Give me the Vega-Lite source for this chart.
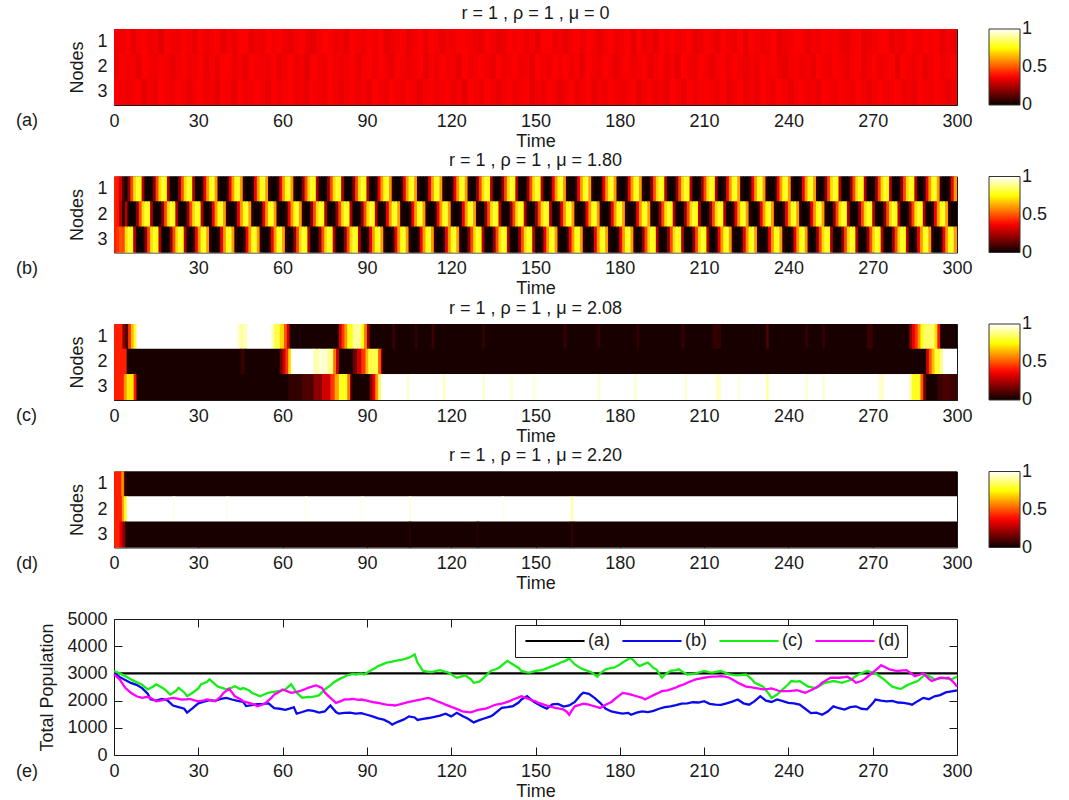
{
"$schema": "https://vega.github.io/schema/vega-lite/v6.json",
"padding": {"left": 15, "top": 4, "right": 5, "bottom": 5},
"bounds": "flush",
"spacing": 71.5,
"config": {
  "font": "Liberation Sans",
  "view": {"stroke": "#1a1a1a", "strokeWidth": 1},
  "axis": {"labelFont": "Liberation Sans", "titleFont": "Liberation Sans", "labelFontSize": 18, "titleFontSize": 18, "titleFontWeight": "normal", "labelColor": "#1a1a1a", "titleColor": "#1a1a1a", "grid": false, "domain": false, "tickColor": "#1a1a1a", "tickSize": -8, "tickWidth": 1, "labelFlush": false, "labelOverlap": false, "zindex": 1},
  "axisX": {"labelPadding": 15, "titlePadding": 2},
  "axisY": {"labelPadding": 15, "titlePadding": 10},
  "title": {"font": "Liberation Sans", "fontSize": 18, "fontWeight": "normal", "color": "#1a1a1a", "offset": 6},
  "legend": {"labelFont": "Liberation Sans", "labelFontSize": 18, "labelColor": "#1a1a1a", "gradientLength": 76, "gradientThickness": 31, "gradientStrokeColor": "#333333", "gradientStrokeWidth": 1, "padding": 0, "offset": 31, "labelOffset": 5, "labelOverlap": false}
},
"resolve": {"scale": {"color": "independent", "x": "independent", "y": "independent"}, "legend": {"color": "independent"}},
"datasets": {
"A": [
{"t":0,"1":0.36,"2":0.35,"3":0.37},{"t":2,"1":0.35,"2":0.37,"3":0.36},{"t":4,"1":0.37,"2":0.36,"3":0.35},{"t":6,"1":0.34,"2":0.36,"3":0.36},{"t":8,"1":0.36,"2":0.34,"3":0.37},{"t":10,"1":0.37,"2":0.37,"3":0.34},{"t":12,"1":0.35,"2":0.36,"3":0.36},{"t":14,"1":0.36,"2":0.35,"3":0.35},{"t":16,"1":0.33,"2":0.37,"3":0.37},{"t":18,"1":0.37,"2":0.36,"3":0.36},
{"t":20,"1":0.36,"2":0.34,"3":0.35},{"t":22,"1":0.35,"2":0.36,"3":0.37},{"t":24,"1":0.37,"2":0.37,"3":0.36},{"t":26,"1":0.36,"2":0.35,"3":0.34},{"t":28,"1":0.34,"2":0.36,"3":0.36},{"t":30,"1":0.37,"2":0.37,"3":0.37},{"t":32,"1":0.35,"2":0.34,"3":0.35},{"t":34,"1":0.36,"2":0.36,"3":0.36},{"t":36,"1":0.37,"2":0.35,"3":0.34},{"t":38,"1":0.34,"2":0.37,"3":0.37},
{"t":40,"1":0.36,"2":0.37,"3":0.36},{"t":42,"1":0.35,"2":0.35,"3":0.34},{"t":44,"1":0.37,"2":0.36,"3":0.37},{"t":46,"1":0.37,"2":0.34,"3":0.35},{"t":48,"1":0.34,"2":0.37,"3":0.36},{"t":50,"1":0.36,"2":0.36,"3":0.37},{"t":52,"1":0.35,"2":0.36,"3":0.36},{"t":54,"1":0.37,"2":0.35,"3":0.34},{"t":56,"1":0.36,"2":0.37,"3":0.37},{"t":58,"1":0.37,"2":0.34,"3":0.35},
{"t":60,"1":0.35,"2":0.36,"3":0.36},{"t":62,"1":0.34,"2":0.37,"3":0.37},{"t":64,"1":0.36,"2":0.35,"3":0.35},{"t":66,"1":0.37,"2":0.36,"3":0.36},{"t":68,"1":0.35,"2":0.33,"3":0.34},{"t":70,"1":0.33,"2":0.37,"3":0.37},{"t":72,"1":0.36,"2":0.36,"3":0.36},{"t":74,"1":0.37,"2":0.35,"3":0.35},{"t":76,"1":0.37,"2":0.37,"3":0.37},{"t":78,"1":0.35,"2":0.36,"3":0.36},
{"t":80,"1":0.36,"2":0.35,"3":0.34},{"t":82,"1":0.34,"2":0.36,"3":0.36},{"t":84,"1":0.37,"2":0.37,"3":0.37},{"t":86,"1":0.36,"2":0.34,"3":0.35},{"t":88,"1":0.35,"2":0.36,"3":0.36},{"t":90,"1":0.37,"2":0.37,"3":0.34},{"t":92,"1":0.36,"2":0.35,"3":0.37},{"t":94,"1":0.37,"2":0.37,"3":0.36},{"t":96,"1":0.34,"2":0.36,"3":0.35},{"t":98,"1":0.35,"2":0.34,"3":0.37},
{"t":100,"1":0.36,"2":0.37,"3":0.36},{"t":102,"1":0.37,"2":0.36,"3":0.35},{"t":104,"1":0.34,"2":0.35,"3":0.37},{"t":106,"1":0.36,"2":0.36,"3":0.36},{"t":108,"1":0.37,"2":0.37,"3":0.34},{"t":110,"1":0.35,"2":0.34,"3":0.36},{"t":112,"1":0.37,"2":0.36,"3":0.37},{"t":114,"1":0.36,"2":0.35,"3":0.35},{"t":116,"1":0.34,"2":0.37,"3":0.36},{"t":118,"1":0.36,"2":0.36,"3":0.37},
{"t":120,"1":0.35,"2":0.36,"3":0.35},{"t":122,"1":0.37,"2":0.34,"3":0.36},{"t":124,"1":0.37,"2":0.37,"3":0.34},{"t":126,"1":0.36,"2":0.35,"3":0.37},{"t":128,"1":0.35,"2":0.36,"3":0.36},{"t":130,"1":0.34,"2":0.37,"3":0.35},{"t":132,"1":0.37,"2":0.36,"3":0.37},{"t":134,"1":0.36,"2":0.34,"3":0.36},{"t":136,"1":0.34,"2":0.37,"3":0.34},{"t":138,"1":0.35,"2":0.35,"3":0.36},
{"t":140,"1":0.37,"2":0.36,"3":0.37},{"t":142,"1":0.36,"2":0.37,"3":0.35},{"t":144,"1":0.37,"2":0.35,"3":0.36},{"t":146,"1":0.35,"2":0.36,"3":0.37},{"t":148,"1":0.36,"2":0.34,"3":0.34},{"t":150,"1":0.34,"2":0.37,"3":0.36},{"t":152,"1":0.37,"2":0.36,"3":0.35},{"t":154,"1":0.37,"2":0.35,"3":0.37},{"t":156,"1":0.35,"2":0.37,"3":0.36},{"t":158,"1":0.36,"2":0.36,"3":0.34},
{"t":160,"1":0.34,"2":0.37,"3":0.36},{"t":162,"1":0.36,"2":0.35,"3":0.37},{"t":164,"1":0.37,"2":0.36,"3":0.35},{"t":166,"1":0.35,"2":0.34,"3":0.36},{"t":168,"1":0.37,"2":0.37,"3":0.37},{"t":170,"1":0.36,"2":0.36,"3":0.34},{"t":172,"1":0.34,"2":0.35,"3":0.36},{"t":174,"1":0.36,"2":0.37,"3":0.35},{"t":176,"1":0.37,"2":0.36,"3":0.37},{"t":178,"1":0.35,"2":0.34,"3":0.36},
{"t":180,"1":0.36,"2":0.36,"3":0.35},{"t":182,"1":0.37,"2":0.37,"3":0.36},{"t":184,"1":0.34,"2":0.35,"3":0.37},{"t":186,"1":0.37,"2":0.36,"3":0.34},{"t":188,"1":0.35,"2":0.37,"3":0.36},{"t":190,"1":0.36,"2":0.34,"3":0.37},{"t":192,"1":0.34,"2":0.36,"3":0.35},{"t":194,"1":0.37,"2":0.37,"3":0.36},{"t":196,"1":0.36,"2":0.35,"3":0.34},{"t":198,"1":0.37,"2":0.36,"3":0.37},
{"t":200,"1":0.35,"2":0.34,"3":0.36},{"t":202,"1":0.36,"2":0.37,"3":0.34},{"t":204,"1":0.37,"2":0.36,"3":0.37},{"t":206,"1":0.34,"2":0.35,"3":0.35},{"t":208,"1":0.35,"2":0.37,"3":0.36},{"t":210,"1":0.37,"2":0.36,"3":0.37},{"t":212,"1":0.36,"2":0.34,"3":0.36},{"t":214,"1":0.34,"2":0.36,"3":0.35},{"t":216,"1":0.37,"2":0.37,"3":0.37},{"t":218,"1":0.36,"2":0.35,"3":0.34},
{"t":220,"1":0.35,"2":0.37,"3":0.36},{"t":222,"1":0.37,"2":0.36,"3":0.37},{"t":224,"1":0.34,"2":0.34,"3":0.35},{"t":226,"1":0.37,"2":0.36,"3":0.36},{"t":228,"1":0.36,"2":0.35,"3":0.34},{"t":230,"1":0.35,"2":0.37,"3":0.37},{"t":232,"1":0.36,"2":0.36,"3":0.36},{"t":234,"1":0.37,"2":0.37,"3":0.35},{"t":236,"1":0.34,"2":0.35,"3":0.37},{"t":238,"1":0.35,"2":0.34,"3":0.36},
{"t":240,"1":0.36,"2":0.36,"3":0.34},{"t":242,"1":0.37,"2":0.37,"3":0.36},{"t":244,"1":0.37,"2":0.35,"3":0.37},{"t":246,"1":0.34,"2":0.36,"3":0.35},{"t":248,"1":0.36,"2":0.34,"3":0.36},{"t":250,"1":0.35,"2":0.37,"3":0.34},{"t":252,"1":0.37,"2":0.36,"3":0.37},{"t":254,"1":0.36,"2":0.35,"3":0.36},{"t":256,"1":0.37,"2":0.37,"3":0.35},{"t":258,"1":0.35,"2":0.36,"3":0.37},
{"t":260,"1":0.34,"2":0.35,"3":0.36},{"t":262,"1":0.36,"2":0.36,"3":0.35},{"t":264,"1":0.37,"2":0.37,"3":0.37},{"t":266,"1":0.34,"2":0.34,"3":0.36},{"t":268,"1":0.35,"2":0.36,"3":0.34},{"t":270,"1":0.36,"2":0.37,"3":0.36},{"t":272,"1":0.37,"2":0.35,"3":0.37},{"t":274,"1":0.37,"2":0.36,"3":0.35},{"t":276,"1":0.34,"2":0.37,"3":0.36},{"t":278,"1":0.36,"2":0.34,"3":0.37},
{"t":280,"1":0.35,"2":0.37,"3":0.35},{"t":282,"1":0.37,"2":0.36,"3":0.36},{"t":284,"1":0.36,"2":0.35,"3":0.34},{"t":286,"1":0.35,"2":0.37,"3":0.37},{"t":288,"1":0.37,"2":0.34,"3":0.36},{"t":290,"1":0.36,"2":0.36,"3":0.35},{"t":292,"1":0.37,"2":0.37,"3":0.37},{"t":294,"1":0.34,"2":0.35,"3":0.36},{"t":296,"1":0.36,"2":0.36,"3":0.34},{"t":298,"1":0.35,"2":0.37,"3":0.36}
],
"B": [
{"t":0,"1":0.42,"2":0.42,"3":0.42},{"t":1,"1":0.4,"2":0.4,"3":0.45},{"t":2,"1":0.3,"2":0.25,"3":0.5},{"t":3,"1":0.1,"2":0.05,"3":0.48},{"t":4,"1":0.01,"2":0.25,"3":0.7},{"t":5,"1":0.2,"2":0.01,"3":0.8},{"t":6,"1":0.48,"2":0,"3":0.76},{"t":7,"1":0.7,"2":0.01,"3":0.25},{"t":8,"1":0.8,"2":0.2,"3":0.01},{"t":9,"1":0.76,"2":0.48,"3":0},
{"t":10,"1":0.25,"2":0.7,"3":0.01},{"t":11,"1":0.01,"2":0.8,"3":0.2},{"t":12,"1":0,"2":0.76,"3":0.48},{"t":13,"1":0.01,"2":0.25,"3":0.7},{"t":14,"1":0.2,"2":0.01,"3":0.8},{"t":15,"1":0.48,"2":0,"3":0.76},{"t":16,"1":0.7,"2":0.01,"3":0.25},{"t":17,"1":0.8,"2":0.2,"3":0.01},{"t":18,"1":0.76,"2":0.48,"3":0},{"t":19,"1":0.25,"2":0.7,"3":0.01},
{"t":20,"1":0.01,"2":0.8,"3":0.2},{"t":21,"1":0,"2":0.76,"3":0.48},{"t":22,"1":0.01,"2":0.25,"3":0.7},{"t":23,"1":0.2,"2":0.01,"3":0.8},{"t":24,"1":0.48,"2":0,"3":0.76},{"t":25,"1":0.7,"2":0.01,"3":0.25},{"t":26,"1":0.8,"2":0.2,"3":0.01},{"t":27,"1":0.76,"2":0.48,"3":0},{"t":28,"1":0.25,"2":0.7,"3":0.05},{"t":29,"1":0.01,"2":0.8,"3":0.35},
{"t":30,"1":0,"2":0.76,"3":0.6},{"t":31,"1":0.05,"2":0.25,"3":0.76},{"t":32,"1":0.35,"2":0.01,"3":0.8},{"t":33,"1":0.6,"2":0,"3":0.6},{"t":34,"1":0.76,"2":0.05,"3":0.05},{"t":35,"1":0.8,"2":0.35,"3":0},{"t":36,"1":0.6,"2":0.6,"3":0},{"t":37,"1":0.05,"2":0.76,"3":0.05},{"t":38,"1":0,"2":0.8,"3":0.35},{"t":39,"1":0,"2":0.6,"3":0.6},
{"t":40,"1":0.05,"2":0.05,"3":0.76},{"t":41,"1":0.35,"2":0,"3":0.8},{"t":42,"1":0.6,"2":0,"3":0.6},{"t":43,"1":0.76,"2":0.05,"3":0.05},{"t":44,"1":0.8,"2":0.35,"3":0},{"t":45,"1":0.6,"2":0.6,"3":0},{"t":46,"1":0.05,"2":0.76,"3":0.05},{"t":47,"1":0,"2":0.8,"3":0.35},{"t":48,"1":0,"2":0.6,"3":0.6},{"t":49,"1":0.05,"2":0.05,"3":0.76},
{"t":50,"1":0.35,"2":0,"3":0.8},{"t":51,"1":0.6,"2":0,"3":0.6},{"t":52,"1":0.76,"2":0.05,"3":0.05},{"t":53,"1":0.8,"2":0.35,"3":0},{"t":54,"1":0.6,"2":0.6,"3":0},{"t":55,"1":0.05,"2":0.76,"3":0.05},{"t":56,"1":0,"2":0.8,"3":0.35},{"t":57,"1":0,"2":0.6,"3":0.6},{"t":58,"1":0.05,"2":0.05,"3":0.76},{"t":59,"1":0.35,"2":0,"3":0.8},
{"t":60,"1":0.6,"2":0,"3":0.6},{"t":61,"1":0.76,"2":0.05,"3":0.05},{"t":62,"1":0.8,"2":0.35,"3":0},{"t":63,"1":0.6,"2":0.6,"3":0.01},{"t":64,"1":0.05,"2":0.76,"3":0.2},{"t":65,"1":0,"2":0.8,"3":0.48},{"t":66,"1":0.01,"2":0.6,"3":0.7},{"t":67,"1":0.2,"2":0.05,"3":0.8},{"t":68,"1":0.48,"2":0,"3":0.76},{"t":69,"1":0.7,"2":0.01,"3":0.25},
{"t":70,"1":0.8,"2":0.2,"3":0.01},{"t":71,"1":0.76,"2":0.48,"3":0},{"t":72,"1":0.25,"2":0.7,"3":0.01},{"t":73,"1":0.01,"2":0.8,"3":0.2},{"t":74,"1":0,"2":0.76,"3":0.48},{"t":75,"1":0.01,"2":0.25,"3":0.7},{"t":76,"1":0.2,"2":0.01,"3":0.8},{"t":77,"1":0.48,"2":0,"3":0.76},{"t":78,"1":0.7,"2":0.01,"3":0.25},{"t":79,"1":0.8,"2":0.2,"3":0.01},
{"t":80,"1":0.76,"2":0.48,"3":0},{"t":81,"1":0.25,"2":0.7,"3":0.01},{"t":82,"1":0.01,"2":0.8,"3":0.2},{"t":83,"1":0,"2":0.76,"3":0.48},{"t":84,"1":0.01,"2":0.25,"3":0.7},{"t":85,"1":0.2,"2":0.01,"3":0.8},{"t":86,"1":0.48,"2":0,"3":0.76},{"t":87,"1":0.7,"2":0.01,"3":0.25},{"t":88,"1":0.8,"2":0.2,"3":0.01},{"t":89,"1":0.76,"2":0.48,"3":0},
{"t":90,"1":0.25,"2":0.7,"3":0.05},{"t":91,"1":0.01,"2":0.8,"3":0.35},{"t":92,"1":0,"2":0.76,"3":0.6},{"t":93,"1":0.05,"2":0.25,"3":0.76},{"t":94,"1":0.35,"2":0.01,"3":0.8},{"t":95,"1":0.6,"2":0,"3":0.6},{"t":96,"1":0.76,"2":0.05,"3":0.05},{"t":97,"1":0.8,"2":0.35,"3":0},{"t":98,"1":0.6,"2":0.6,"3":0},{"t":99,"1":0.05,"2":0.76,"3":0.05},
{"t":100,"1":0,"2":0.8,"3":0.35},{"t":101,"1":0,"2":0.6,"3":0.6},{"t":102,"1":0.05,"2":0.05,"3":0.76},{"t":103,"1":0.35,"2":0,"3":0.8},{"t":104,"1":0.6,"2":0,"3":0.6},{"t":105,"1":0.76,"2":0.05,"3":0.05},{"t":106,"1":0.8,"2":0.35,"3":0},{"t":107,"1":0.6,"2":0.6,"3":0},{"t":108,"1":0.05,"2":0.76,"3":0.05},{"t":109,"1":0,"2":0.8,"3":0.35},
{"t":110,"1":0,"2":0.6,"3":0.6},{"t":111,"1":0.05,"2":0.05,"3":0.76},{"t":112,"1":0.35,"2":0,"3":0.8},{"t":113,"1":0.6,"2":0,"3":0.6},{"t":114,"1":0.76,"2":0.05,"3":0.05},{"t":115,"1":0.8,"2":0.35,"3":0},{"t":116,"1":0.6,"2":0.6,"3":0},{"t":117,"1":0.05,"2":0.76,"3":0.05},{"t":118,"1":0,"2":0.8,"3":0.35},{"t":119,"1":0,"2":0.6,"3":0.6},
{"t":120,"1":0.05,"2":0.05,"3":0.76},{"t":121,"1":0.35,"2":0,"3":0.8},{"t":122,"1":0.6,"2":0,"3":0.6},{"t":123,"1":0.76,"2":0.05,"3":0.05},{"t":124,"1":0.8,"2":0.35,"3":0},{"t":125,"1":0.6,"2":0.6,"3":0.01},{"t":126,"1":0.05,"2":0.76,"3":0.2},{"t":127,"1":0,"2":0.8,"3":0.48},{"t":128,"1":0.01,"2":0.6,"3":0.7},{"t":129,"1":0.2,"2":0.05,"3":0.8},
{"t":130,"1":0.48,"2":0,"3":0.76},{"t":131,"1":0.7,"2":0.01,"3":0.25},{"t":132,"1":0.8,"2":0.2,"3":0.01},{"t":133,"1":0.76,"2":0.48,"3":0},{"t":134,"1":0.25,"2":0.7,"3":0.01},{"t":135,"1":0.01,"2":0.8,"3":0.2},{"t":136,"1":0,"2":0.76,"3":0.48},{"t":137,"1":0.01,"2":0.25,"3":0.7},{"t":138,"1":0.2,"2":0.01,"3":0.8},{"t":139,"1":0.48,"2":0,"3":0.76},
{"t":140,"1":0.7,"2":0.01,"3":0.25},{"t":141,"1":0.8,"2":0.2,"3":0.01},{"t":142,"1":0.76,"2":0.48,"3":0},{"t":143,"1":0.25,"2":0.7,"3":0.01},{"t":144,"1":0.01,"2":0.8,"3":0.2},{"t":145,"1":0,"2":0.76,"3":0.48},{"t":146,"1":0.01,"2":0.25,"3":0.7},{"t":147,"1":0.2,"2":0.01,"3":0.8},{"t":148,"1":0.48,"2":0,"3":0.76},{"t":149,"1":0.7,"2":0.01,"3":0.25},
{"t":150,"1":0.8,"2":0.2,"3":0.01},{"t":151,"1":0.76,"2":0.48,"3":0},{"t":152,"1":0.25,"2":0.7,"3":0.05},{"t":153,"1":0.01,"2":0.8,"3":0.35},{"t":154,"1":0,"2":0.76,"3":0.6},{"t":155,"1":0.05,"2":0.25,"3":0.76},{"t":156,"1":0.35,"2":0.01,"3":0.8},{"t":157,"1":0.6,"2":0,"3":0.6},{"t":158,"1":0.76,"2":0.05,"3":0.05},{"t":159,"1":0.8,"2":0.35,"3":0},
{"t":160,"1":0.6,"2":0.6,"3":0},{"t":161,"1":0.05,"2":0.76,"3":0.05},{"t":162,"1":0,"2":0.8,"3":0.35},{"t":163,"1":0,"2":0.6,"3":0.6},{"t":164,"1":0.05,"2":0.05,"3":0.76},{"t":165,"1":0.35,"2":0,"3":0.8},{"t":166,"1":0.6,"2":0,"3":0.6},{"t":167,"1":0.76,"2":0.05,"3":0.05},{"t":168,"1":0.8,"2":0.35,"3":0},{"t":169,"1":0.6,"2":0.6,"3":0},
{"t":170,"1":0.05,"2":0.76,"3":0.05},{"t":171,"1":0,"2":0.8,"3":0.35},{"t":172,"1":0,"2":0.6,"3":0.6},{"t":173,"1":0.05,"2":0.05,"3":0.76},{"t":174,"1":0.35,"2":0,"3":0.8},{"t":175,"1":0.6,"2":0,"3":0.6},{"t":176,"1":0.76,"2":0.05,"3":0.05},{"t":177,"1":0.8,"2":0.35,"3":0},{"t":178,"1":0.6,"2":0.6,"3":0},{"t":179,"1":0.05,"2":0.76,"3":0.05},
{"t":180,"1":0,"2":0.8,"3":0.35},{"t":181,"1":0,"2":0.6,"3":0.6},{"t":182,"1":0.05,"2":0.05,"3":0.76},{"t":183,"1":0.35,"2":0,"3":0.8},{"t":184,"1":0.6,"2":0,"3":0.6},{"t":185,"1":0.76,"2":0.05,"3":0.05},{"t":186,"1":0.8,"2":0.35,"3":0},{"t":187,"1":0.6,"2":0.6,"3":0.01},{"t":188,"1":0.05,"2":0.76,"3":0.2},{"t":189,"1":0,"2":0.8,"3":0.48},
{"t":190,"1":0.01,"2":0.6,"3":0.7},{"t":191,"1":0.2,"2":0.05,"3":0.8},{"t":192,"1":0.48,"2":0,"3":0.76},{"t":193,"1":0.7,"2":0.01,"3":0.25},{"t":194,"1":0.8,"2":0.2,"3":0.01},{"t":195,"1":0.76,"2":0.48,"3":0},{"t":196,"1":0.25,"2":0.7,"3":0.01},{"t":197,"1":0.01,"2":0.8,"3":0.2},{"t":198,"1":0,"2":0.76,"3":0.48},{"t":199,"1":0.01,"2":0.25,"3":0.7},
{"t":200,"1":0.2,"2":0.01,"3":0.8},{"t":201,"1":0.48,"2":0,"3":0.76},{"t":202,"1":0.7,"2":0.01,"3":0.25},{"t":203,"1":0.8,"2":0.2,"3":0.01},{"t":204,"1":0.76,"2":0.48,"3":0},{"t":205,"1":0.25,"2":0.7,"3":0.01},{"t":206,"1":0.01,"2":0.8,"3":0.2},{"t":207,"1":0,"2":0.76,"3":0.48},{"t":208,"1":0.01,"2":0.25,"3":0.7},{"t":209,"1":0.2,"2":0.01,"3":0.8},
{"t":210,"1":0.48,"2":0,"3":0.76},{"t":211,"1":0.7,"2":0.01,"3":0.25},{"t":212,"1":0.8,"2":0.2,"3":0.01},{"t":213,"1":0.76,"2":0.48,"3":0},{"t":214,"1":0.25,"2":0.7,"3":0.05},{"t":215,"1":0.01,"2":0.8,"3":0.35},{"t":216,"1":0,"2":0.76,"3":0.6},{"t":217,"1":0.05,"2":0.25,"3":0.76},{"t":218,"1":0.35,"2":0.01,"3":0.8},{"t":219,"1":0.6,"2":0,"3":0.6},
{"t":220,"1":0.76,"2":0.05,"3":0.05},{"t":221,"1":0.8,"2":0.35,"3":0},{"t":222,"1":0.6,"2":0.6,"3":0},{"t":223,"1":0.05,"2":0.76,"3":0.05},{"t":224,"1":0,"2":0.8,"3":0.35},{"t":225,"1":0,"2":0.6,"3":0.6},{"t":226,"1":0.05,"2":0.05,"3":0.76},{"t":227,"1":0.35,"2":0,"3":0.8},{"t":228,"1":0.6,"2":0,"3":0.6},{"t":229,"1":0.76,"2":0.05,"3":0.05},
{"t":230,"1":0.8,"2":0.35,"3":0},{"t":231,"1":0.6,"2":0.6,"3":0},{"t":232,"1":0.05,"2":0.76,"3":0.05},{"t":233,"1":0,"2":0.8,"3":0.35},{"t":234,"1":0,"2":0.6,"3":0.6},{"t":235,"1":0.05,"2":0.05,"3":0.76},{"t":236,"1":0.35,"2":0,"3":0.8},{"t":237,"1":0.6,"2":0,"3":0.6},{"t":238,"1":0.76,"2":0.05,"3":0.05},{"t":239,"1":0.8,"2":0.35,"3":0},
{"t":240,"1":0.6,"2":0.6,"3":0},{"t":241,"1":0.05,"2":0.76,"3":0.05},{"t":242,"1":0,"2":0.8,"3":0.35},{"t":243,"1":0,"2":0.6,"3":0.6},{"t":244,"1":0.05,"2":0.05,"3":0.76},{"t":245,"1":0.35,"2":0,"3":0.8},{"t":246,"1":0.6,"2":0,"3":0.6},{"t":247,"1":0.76,"2":0.05,"3":0.05},{"t":248,"1":0.8,"2":0.35,"3":0},{"t":249,"1":0.6,"2":0.6,"3":0.01},
{"t":250,"1":0.05,"2":0.76,"3":0.2},{"t":251,"1":0,"2":0.8,"3":0.48},{"t":252,"1":0.01,"2":0.6,"3":0.7},{"t":253,"1":0.2,"2":0.05,"3":0.8},{"t":254,"1":0.48,"2":0,"3":0.76},{"t":255,"1":0.7,"2":0.01,"3":0.25},{"t":256,"1":0.8,"2":0.2,"3":0.01},{"t":257,"1":0.76,"2":0.48,"3":0},{"t":258,"1":0.25,"2":0.7,"3":0.01},{"t":259,"1":0.01,"2":0.8,"3":0.2},
{"t":260,"1":0,"2":0.76,"3":0.48},{"t":261,"1":0.01,"2":0.25,"3":0.7},{"t":262,"1":0.2,"2":0.01,"3":0.8},{"t":263,"1":0.48,"2":0,"3":0.76},{"t":264,"1":0.7,"2":0.01,"3":0.25},{"t":265,"1":0.8,"2":0.2,"3":0.01},{"t":266,"1":0.76,"2":0.48,"3":0},{"t":267,"1":0.25,"2":0.7,"3":0.01},{"t":268,"1":0.01,"2":0.8,"3":0.2},{"t":269,"1":0,"2":0.76,"3":0.48},
{"t":270,"1":0.01,"2":0.25,"3":0.7},{"t":271,"1":0.2,"2":0.01,"3":0.8},{"t":272,"1":0.48,"2":0,"3":0.76},{"t":273,"1":0.7,"2":0.01,"3":0.25},{"t":274,"1":0.8,"2":0.2,"3":0.01},{"t":275,"1":0.76,"2":0.48,"3":0},{"t":276,"1":0.25,"2":0.7,"3":0.01},{"t":277,"1":0.01,"2":0.8,"3":0.2},{"t":278,"1":0,"2":0.76,"3":0.48},{"t":279,"1":0.01,"2":0.25,"3":0.7},
{"t":280,"1":0.2,"2":0.01,"3":0.8},{"t":281,"1":0.48,"2":0,"3":0.76},{"t":282,"1":0.7,"2":0.01,"3":0.25},{"t":283,"1":0.8,"2":0.2,"3":0.01},{"t":284,"1":0.76,"2":0.48,"3":0},{"t":285,"1":0.25,"2":0.7,"3":0.05},{"t":286,"1":0.01,"2":0.8,"3":0.35},{"t":287,"1":0,"2":0.76,"3":0.6},{"t":288,"1":0.05,"2":0.25,"3":0.76},{"t":289,"1":0.35,"2":0.01,"3":0.8},
{"t":290,"1":0.6,"2":0,"3":0.6},{"t":291,"1":0.76,"2":0.05,"3":0.05},{"t":292,"1":0.8,"2":0.35,"3":0},{"t":293,"1":0.6,"2":0.6,"3":0},{"t":294,"1":0.05,"2":0.76,"3":0.05},{"t":295,"1":0,"2":0.8,"3":0.35},{"t":296,"1":0,"2":0.6,"3":0.6},{"t":297,"1":0.05,"2":0.05,"3":0.76},{"t":298,"1":0.35,"2":0,"3":0.8},{"t":299,"1":0.6,"2":0,"3":0.6}
],
"C": [
{"a":0,"b":3,"n":"1","v":0.42},{"a":3,"b":4,"n":"1","v":0.2},{"a":4,"b":5,"n":"1","v":0.1},{"a":5,"b":6,"n":"1","v":0.45},{"a":6,"b":7,"n":"1","v":0.65},{"a":7,"b":8,"n":"1","v":0.8},{"a":8,"b":44,"n":"1","v":1},{"a":44,"b":45,"n":"1","v":0.94},{"a":45,"b":46,"n":"1","v":0.9},{"a":46,"b":47.5,"n":"1","v":0.94},{"a":47.5,"b":56,"n":"1","v":1},{"a":56,"b":57,"n":"1","v":0.92},{"a":57,"b":59,"n":"1","v":0.82},{"a":59,"b":60.5,"n":"1","v":0.7},{"a":60.5,"b":61.5,"n":"1","v":0.5},{"a":61.5,"b":62.5,"n":"1","v":0.3},{"a":62.5,"b":80,"n":"1","v":0.02},{"a":80,"b":81,"n":"1","v":0.3},{"a":81,"b":82,"n":"1","v":0.45},{"a":82,"b":83,"n":"1","v":0.6},{"a":83,"b":85,"n":"1","v":0.78},{"a":85,"b":88,"n":"1","v":0.9},{"a":88,"b":89,"n":"1","v":0.75},{"a":89,"b":90,"n":"1","v":0.55},{"a":90,"b":91,"n":"1","v":0.2},{"a":91,"b":99,"n":"1","v":0.02},{"a":99,"b":100,"n":"1","v":0.07},{"a":100,"b":107,"n":"1","v":0.02},{"a":107,"b":108,"n":"1","v":0.06},{"a":108,"b":113,"n":"1","v":0.02},{"a":113,"b":114,"n":"1","v":0.08},{"a":114,"b":131,"n":"1","v":0.02},{"a":131,"b":132,"n":"1","v":0.06},{"a":132,"b":160,"n":"1","v":0.02},{"a":160,"b":161,"n":"1","v":0.07},{"a":161,"b":172,"n":"1","v":0.02},{"a":172,"b":173,"n":"1","v":0.06},{"a":173,"b":186,"n":"1","v":0.02},{"a":186,"b":187,"n":"1","v":0.06},{"a":187,"b":202,"n":"1","v":0.02},{"a":202,"b":203,"n":"1","v":0.07},{"a":203,"b":213,"n":"1","v":0.02},{"a":213,"b":216,"n":"1","v":0.06},{"a":216,"b":232,"n":"1","v":0.02},{"a":232,"b":233,"n":"1","v":0.1},{"a":233,"b":246,"n":"1","v":0.02},{"a":246,"b":247,"n":"1","v":0.06},{"a":247,"b":252,"n":"1","v":0.02},{"a":252,"b":253,"n":"1","v":0.06},{"a":253,"b":268,"n":"1","v":0.02},{"a":268,"b":270,"n":"1","v":0.07},{"a":270,"b":283,"n":"1","v":0.02},{"a":283,"b":284,"n":"1","v":0.2},{"a":284,"b":285,"n":"1","v":0.35},{"a":285,"b":286,"n":"1","v":0.45},{"a":286,"b":287,"n":"1","v":0.6},{"a":287,"b":288,"n":"1","v":0.75},{"a":288,"b":292,"n":"1","v":0.85},{"a":292,"b":293,"n":"1","v":0.7},{"a":293,"b":294,"n":"1","v":0.4},{"a":294,"b":300,"n":"1","v":0.02},
{"a":0,"b":4.5,"n":"2","v":0.42},{"a":4.5,"b":45,"n":"2","v":0.02},{"a":45,"b":46.5,"n":"2","v":0.07},{"a":46.5,"b":59,"n":"2","v":0.02},{"a":59,"b":60,"n":"2","v":0.15},{"a":60,"b":61,"n":"2","v":0.3},{"a":61,"b":62,"n":"2","v":0.45},{"a":62,"b":63,"n":"2","v":0.7},{"a":63,"b":71,"n":"2","v":1},{"a":71,"b":73,"n":"2","v":0.92},{"a":73,"b":76,"n":"2","v":0.96},{"a":76,"b":78,"n":"2","v":0.88},{"a":78,"b":79,"n":"2","v":0.55},{"a":79,"b":80,"n":"2","v":0.3},{"a":80,"b":85,"n":"2","v":0.02},{"a":85,"b":86.5,"n":"2","v":0.15},{"a":86.5,"b":88,"n":"2","v":0.3},{"a":88,"b":89.5,"n":"2","v":0.45},{"a":89.5,"b":90.5,"n":"2","v":0.65},{"a":90.5,"b":94,"n":"2","v":0.82},{"a":94,"b":95,"n":"2","v":0.5},{"a":95,"b":95.5,"n":"2","v":0.2},{"a":95.5,"b":289,"n":"2","v":0.02},{"a":289,"b":290,"n":"2","v":0.3},{"a":290,"b":291,"n":"2","v":0.5},{"a":291,"b":292,"n":"2","v":0.65},{"a":292,"b":294,"n":"2","v":0.8},{"a":294,"b":295,"n":"2","v":0.9},{"a":295,"b":300,"n":"2","v":1},
{"a":0,"b":3.5,"n":"3","v":0.42},{"a":3.5,"b":4.5,"n":"3","v":0.6},{"a":4.5,"b":7,"n":"3","v":0.72},{"a":7,"b":8,"n":"3","v":0.4},{"a":8,"b":62,"n":"3","v":0.02},{"a":62,"b":67,"n":"3","v":0.06},{"a":67,"b":71,"n":"3","v":0.1},{"a":71,"b":74,"n":"3","v":0.2},{"a":74,"b":77,"n":"3","v":0.3},{"a":77,"b":78.5,"n":"3","v":0.45},{"a":78.5,"b":80,"n":"3","v":0.62},{"a":80,"b":83,"n":"3","v":0.78},{"a":83,"b":84,"n":"3","v":0.55},{"a":84,"b":84.5,"n":"3","v":0.2},{"a":84.5,"b":91,"n":"3","v":0.02},{"a":91,"b":92,"n":"3","v":0.2},{"a":92,"b":93,"n":"3","v":0.35},{"a":93,"b":94,"n":"3","v":0.6},{"a":94,"b":95,"n":"3","v":0.85},{"a":95,"b":104,"n":"3","v":1},{"a":104,"b":105,"n":"3","v":0.96},{"a":105,"b":117,"n":"3","v":1},{"a":117,"b":118,"n":"3","v":0.94},{"a":118,"b":131,"n":"3","v":1},{"a":131,"b":132,"n":"3","v":0.96},{"a":132,"b":141,"n":"3","v":1},{"a":141,"b":142,"n":"3","v":0.96},{"a":142,"b":149,"n":"3","v":1},{"a":149,"b":150,"n":"3","v":0.97},{"a":150,"b":172,"n":"3","v":1},{"a":172,"b":173,"n":"3","v":0.96},{"a":173,"b":185,"n":"3","v":1},{"a":185,"b":186,"n":"3","v":0.96},{"a":186,"b":203,"n":"3","v":1},{"a":203,"b":204,"n":"3","v":0.96},{"a":204,"b":214,"n":"3","v":1},{"a":214,"b":216,"n":"3","v":0.95},{"a":216,"b":222,"n":"3","v":1},{"a":222,"b":223,"n":"3","v":0.97},{"a":223,"b":232,"n":"3","v":1},{"a":232,"b":233,"n":"3","v":0.92},{"a":233,"b":246,"n":"3","v":1},{"a":246,"b":247,"n":"3","v":0.96},{"a":247,"b":252,"n":"3","v":1},{"a":252,"b":253,"n":"3","v":0.96},{"a":253,"b":272,"n":"3","v":1},{"a":272,"b":274,"n":"3","v":0.95},{"a":274,"b":283,"n":"3","v":1},{"a":283,"b":284,"n":"3","v":0.9},{"a":284,"b":287,"n":"3","v":0.78},{"a":287,"b":288,"n":"3","v":0.5},{"a":288,"b":289,"n":"3","v":0.15},{"a":289,"b":293,"n":"3","v":0.02},{"a":293,"b":295,"n":"3","v":0.07},{"a":295,"b":297,"n":"3","v":0.1},{"a":297,"b":300,"n":"3","v":0.08}
],
"D": [
{"a":0,"b":2.5,"n":"1","v":0.42},{"a":2.5,"b":3,"n":"1","v":0.55},{"a":3,"b":3.5,"n":"1","v":0.62},{"a":3.5,"b":4,"n":"1","v":0.15},{"a":4,"b":300,"n":"1","v":0.02},
{"a":0,"b":2.8,"n":"2","v":0.42},{"a":2.8,"b":3.5,"n":"2","v":0.6},{"a":3.5,"b":4.5,"n":"2","v":0.78},{"a":4.5,"b":21,"n":"2","v":1},{"a":21,"b":21.5,"n":"2","v":0.97},{"a":21.5,"b":40,"n":"2","v":1},{"a":40,"b":40.5,"n":"2","v":0.97},{"a":40.5,"b":68,"n":"2","v":1},{"a":68,"b":68.5,"n":"2","v":0.97},{"a":68.5,"b":88,"n":"2","v":1},{"a":88,"b":88.5,"n":"2","v":0.97},{"a":88.5,"b":105,"n":"2","v":1},{"a":105,"b":105.5,"n":"2","v":0.96},{"a":105.5,"b":138,"n":"2","v":1},{"a":138,"b":138.5,"n":"2","v":0.97},{"a":138.5,"b":162.5,"n":"2","v":1},{"a":162.5,"b":163.5,"n":"2","v":0.92},{"a":163.5,"b":300,"n":"2","v":1},
{"a":0,"b":2,"n":"3","v":0.42},{"a":2,"b":3,"n":"3","v":0.32},{"a":3,"b":4,"n":"3","v":0.2},{"a":4,"b":105,"n":"3","v":0.02},{"a":105,"b":105.5,"n":"3","v":0.05},{"a":105.5,"b":129,"n":"3","v":0.02},{"a":129,"b":129.5,"n":"3","v":0.05},{"a":129.5,"b":162.5,"n":"3","v":0.02},{"a":162.5,"b":163.5,"n":"3","v":0.05},{"a":163.5,"b":300,"n":"3","v":0.02}
],
"E": [
{"s":"(a)","t":0,"v":3000},{"s":"(a)","t":300,"v":3000},
{"s":"(b)","t":0,"v":3000},{"s":"(b)","t":2,"v":2870},{"s":"(b)","t":4,"v":2760},{"s":"(b)","t":6,"v":2650},{"s":"(b)","t":8,"v":2580},{"s":"(b)","t":10,"v":2460},{"s":"(b)","t":12,"v":2250},{"s":"(b)","t":13,"v":2050},{"s":"(b)","t":15,"v":2000},{"s":"(b)","t":17,"v":2060},{"s":"(b)","t":19,"v":2010},{"s":"(b)","t":21,"v":1820},{"s":"(b)","t":23,"v":1760},{"s":"(b)","t":25,"v":1700},{"s":"(b)","t":26,"v":1560},{"s":"(b)","t":28,"v":1720},{"s":"(b)","t":30,"v":1900},{"s":"(b)","t":32,"v":1960},{"s":"(b)","t":34,"v":2020},{"s":"(b)","t":36,"v":1990},{"s":"(b)","t":38,"v":2060},{"s":"(b)","t":40,"v":2100},{"s":"(b)","t":42,"v":2040},{"s":"(b)","t":44,"v":1990},{"s":"(b)","t":46,"v":1950},{"s":"(b)","t":47,"v":1800},{"s":"(b)","t":49,"v":1830},{"s":"(b)","t":51,"v":1870},{"s":"(b)","t":53,"v":1880},{"s":"(b)","t":55,"v":1900},{"s":"(b)","t":57,"v":1720},{"s":"(b)","t":59,"v":1700},{"s":"(b)","t":61,"v":1660},{"s":"(b)","t":63,"v":1720},{"s":"(b)","t":64,"v":1760},{"s":"(b)","t":65,"v":1520},{"s":"(b)","t":67,"v":1580},{"s":"(b)","t":69,"v":1650},{"s":"(b)","t":71,"v":1620},{"s":"(b)","t":73,"v":1560},{"s":"(b)","t":75,"v":1600},{"s":"(b)","t":77,"v":1820},{"s":"(b)","t":79,"v":1580},{"s":"(b)","t":80,"v":1520},{"s":"(b)","t":82,"v":1550},{"s":"(b)","t":84,"v":1560},{"s":"(b)","t":86,"v":1520},{"s":"(b)","t":88,"v":1540},{"s":"(b)","t":90,"v":1480},{"s":"(b)","t":92,"v":1420},{"s":"(b)","t":94,"v":1350},{"s":"(b)","t":96,"v":1300},{"s":"(b)","t":98,"v":1200},{"s":"(b)","t":99,"v":1120},{"s":"(b)","t":101,"v":1220},{"s":"(b)","t":103,"v":1300},{"s":"(b)","t":105,"v":1420},{"s":"(b)","t":107,"v":1380},{"s":"(b)","t":108,"v":1290},{"s":"(b)","t":110,"v":1330},{"s":"(b)","t":112,"v":1360},{"s":"(b)","t":114,"v":1400},{"s":"(b)","t":116,"v":1450},{"s":"(b)","t":118,"v":1520},{"s":"(b)","t":120,"v":1420},{"s":"(b)","t":122,"v":1550},{"s":"(b)","t":124,"v":1430},{"s":"(b)","t":126,"v":1330},{"s":"(b)","t":128,"v":1200},{"s":"(b)","t":130,"v":1280},{"s":"(b)","t":132,"v":1350},{"s":"(b)","t":134,"v":1420},{"s":"(b)","t":135,"v":1480},{"s":"(b)","t":137,"v":1650},{"s":"(b)","t":138,"v":1730},{"s":"(b)","t":140,"v":1760},{"s":"(b)","t":142,"v":1800},{"s":"(b)","t":144,"v":1930},{"s":"(b)","t":145,"v":2040},{"s":"(b)","t":147,"v":2160},{"s":"(b)","t":149,"v":1980},{"s":"(b)","t":150,"v":1920},{"s":"(b)","t":152,"v":1800},{"s":"(b)","t":154,"v":1700},{"s":"(b)","t":156,"v":1860},{"s":"(b)","t":158,"v":1880},{"s":"(b)","t":160,"v":1780},{"s":"(b)","t":162,"v":1820},{"s":"(b)","t":164,"v":1950},{"s":"(b)","t":166,"v":2200},{"s":"(b)","t":167,"v":2290},{"s":"(b)","t":169,"v":2250},{"s":"(b)","t":171,"v":2100},{"s":"(b)","t":173,"v":1920},{"s":"(b)","t":175,"v":1700},{"s":"(b)","t":177,"v":1600},{"s":"(b)","t":179,"v":1560},{"s":"(b)","t":181,"v":1520},{"s":"(b)","t":183,"v":1550},{"s":"(b)","t":184,"v":1480},{"s":"(b)","t":186,"v":1560},{"s":"(b)","t":188,"v":1600},{"s":"(b)","t":190,"v":1580},{"s":"(b)","t":192,"v":1620},{"s":"(b)","t":194,"v":1700},{"s":"(b)","t":196,"v":1760},{"s":"(b)","t":198,"v":1790},{"s":"(b)","t":200,"v":1830},{"s":"(b)","t":202,"v":1890},{"s":"(b)","t":204,"v":1900},{"s":"(b)","t":206,"v":1940},{"s":"(b)","t":208,"v":1930},{"s":"(b)","t":210,"v":1980},{"s":"(b)","t":212,"v":1880},{"s":"(b)","t":214,"v":1850},{"s":"(b)","t":216,"v":1840},{"s":"(b)","t":218,"v":1900},{"s":"(b)","t":220,"v":1960},{"s":"(b)","t":222,"v":2040},{"s":"(b)","t":224,"v":1900},{"s":"(b)","t":226,"v":1850},{"s":"(b)","t":228,"v":1980},{"s":"(b)","t":230,"v":2160},{"s":"(b)","t":232,"v":2000},{"s":"(b)","t":234,"v":1950},{"s":"(b)","t":236,"v":2040},{"s":"(b)","t":238,"v":1980},{"s":"(b)","t":240,"v":1920},{"s":"(b)","t":242,"v":1900},{"s":"(b)","t":244,"v":1850},{"s":"(b)","t":246,"v":1700},{"s":"(b)","t":248,"v":1540},{"s":"(b)","t":250,"v":1560},{"s":"(b)","t":252,"v":1480},{"s":"(b)","t":254,"v":1600},{"s":"(b)","t":256,"v":1790},{"s":"(b)","t":258,"v":1720},{"s":"(b)","t":260,"v":1670},{"s":"(b)","t":262,"v":1760},{"s":"(b)","t":264,"v":1790},{"s":"(b)","t":266,"v":1700},{"s":"(b)","t":268,"v":1680},{"s":"(b)","t":270,"v":1900},{"s":"(b)","t":271,"v":2040},{"s":"(b)","t":273,"v":2000},{"s":"(b)","t":275,"v":1970},{"s":"(b)","t":277,"v":1990},{"s":"(b)","t":279,"v":1930},{"s":"(b)","t":281,"v":1920},{"s":"(b)","t":283,"v":1880},{"s":"(b)","t":284,"v":1850},{"s":"(b)","t":286,"v":1980},{"s":"(b)","t":288,"v":2100},{"s":"(b)","t":290,"v":2050},{"s":"(b)","t":292,"v":2160},{"s":"(b)","t":294,"v":2200},{"s":"(b)","t":296,"v":2300},{"s":"(b)","t":298,"v":2340},{"s":"(b)","t":300,"v":2380},
{"s":"(c)","t":0,"v":3090},{"s":"(c)","t":2,"v":3000},{"s":"(c)","t":4,"v":2900},{"s":"(c)","t":6,"v":2780},{"s":"(c)","t":8,"v":2680},{"s":"(c)","t":10,"v":2580},{"s":"(c)","t":12,"v":2410},{"s":"(c)","t":14,"v":2520},{"s":"(c)","t":15,"v":2600},{"s":"(c)","t":17,"v":2480},{"s":"(c)","t":18,"v":2420},{"s":"(c)","t":20,"v":2220},{"s":"(c)","t":22,"v":2350},{"s":"(c)","t":23,"v":2470},{"s":"(c)","t":25,"v":2300},{"s":"(c)","t":26,"v":2160},{"s":"(c)","t":28,"v":2290},{"s":"(c)","t":30,"v":2450},{"s":"(c)","t":31,"v":2600},{"s":"(c)","t":33,"v":2680},{"s":"(c)","t":34,"v":2780},{"s":"(c)","t":36,"v":2600},{"s":"(c)","t":37,"v":2510},{"s":"(c)","t":39,"v":2450},{"s":"(c)","t":40,"v":2410},{"s":"(c)","t":42,"v":2480},{"s":"(c)","t":43,"v":2530},{"s":"(c)","t":45,"v":2420},{"s":"(c)","t":46,"v":2460},{"s":"(c)","t":48,"v":2380},{"s":"(c)","t":49,"v":2290},{"s":"(c)","t":51,"v":2200},{"s":"(c)","t":52,"v":2160},{"s":"(c)","t":54,"v":2250},{"s":"(c)","t":55,"v":2290},{"s":"(c)","t":57,"v":2320},{"s":"(c)","t":58,"v":2340},{"s":"(c)","t":60,"v":2380},{"s":"(c)","t":61,"v":2410},{"s":"(c)","t":63,"v":2600},{"s":"(c)","t":64,"v":2450},{"s":"(c)","t":65,"v":2290},{"s":"(c)","t":67,"v":2100},{"s":"(c)","t":69,"v":2140},{"s":"(c)","t":70,"v":2130},{"s":"(c)","t":72,"v":2160},{"s":"(c)","t":73,"v":2200},{"s":"(c)","t":75,"v":2410},{"s":"(c)","t":77,"v":2560},{"s":"(c)","t":78,"v":2660},{"s":"(c)","t":80,"v":2780},{"s":"(c)","t":82,"v":2880},{"s":"(c)","t":83,"v":2930},{"s":"(c)","t":85,"v":2980},{"s":"(c)","t":86,"v":2960},{"s":"(c)","t":88,"v":2990},{"s":"(c)","t":89,"v":2960},{"s":"(c)","t":91,"v":3090},{"s":"(c)","t":93,"v":3200},{"s":"(c)","t":94,"v":3270},{"s":"(c)","t":96,"v":3350},{"s":"(c)","t":97,"v":3400},{"s":"(c)","t":99,"v":3430},{"s":"(c)","t":100,"v":3460},{"s":"(c)","t":102,"v":3500},{"s":"(c)","t":103,"v":3520},{"s":"(c)","t":105,"v":3580},{"s":"(c)","t":107,"v":3700},{"s":"(c)","t":108,"v":3400},{"s":"(c)","t":110,"v":3090},{"s":"(c)","t":112,"v":3060},{"s":"(c)","t":113,"v":3050},{"s":"(c)","t":115,"v":3100},{"s":"(c)","t":116,"v":3120},{"s":"(c)","t":118,"v":3060},{"s":"(c)","t":119,"v":3030},{"s":"(c)","t":121,"v":2900},{"s":"(c)","t":122,"v":2840},{"s":"(c)","t":124,"v":2900},{"s":"(c)","t":125,"v":2930},{"s":"(c)","t":127,"v":2780},{"s":"(c)","t":128,"v":2655},{"s":"(c)","t":130,"v":2700},{"s":"(c)","t":131,"v":2780},{"s":"(c)","t":133,"v":2980},{"s":"(c)","t":134,"v":3090},{"s":"(c)","t":136,"v":3160},{"s":"(c)","t":137,"v":3210},{"s":"(c)","t":139,"v":3380},{"s":"(c)","t":140,"v":3460},{"s":"(c)","t":142,"v":3330},{"s":"(c)","t":144,"v":3200},{"s":"(c)","t":145,"v":3090},{"s":"(c)","t":147,"v":3040},{"s":"(c)","t":148,"v":3030},{"s":"(c)","t":150,"v":3090},{"s":"(c)","t":152,"v":3120},{"s":"(c)","t":153,"v":3150},{"s":"(c)","t":155,"v":3230},{"s":"(c)","t":156,"v":3270},{"s":"(c)","t":158,"v":3350},{"s":"(c)","t":159,"v":3400},{"s":"(c)","t":161,"v":3480},{"s":"(c)","t":162,"v":3545},{"s":"(c)","t":164,"v":3330},{"s":"(c)","t":166,"v":3200},{"s":"(c)","t":167,"v":3150},{"s":"(c)","t":169,"v":3080},{"s":"(c)","t":170,"v":3030},{"s":"(c)","t":172,"v":2880},{"s":"(c)","t":173,"v":3000},{"s":"(c)","t":175,"v":3150},{"s":"(c)","t":177,"v":3200},{"s":"(c)","t":178,"v":3210},{"s":"(c)","t":180,"v":3330},{"s":"(c)","t":181,"v":3400},{"s":"(c)","t":183,"v":3520},{"s":"(c)","t":184,"v":3580},{"s":"(c)","t":186,"v":3350},{"s":"(c)","t":187,"v":3270},{"s":"(c)","t":189,"v":3360},{"s":"(c)","t":190,"v":3400},{"s":"(c)","t":192,"v":3200},{"s":"(c)","t":193,"v":3150},{"s":"(c)","t":195,"v":2840},{"s":"(c)","t":196,"v":2950},{"s":"(c)","t":198,"v":3090},{"s":"(c)","t":200,"v":3120},{"s":"(c)","t":201,"v":3150},{"s":"(c)","t":203,"v":3020},{"s":"(c)","t":204,"v":2960},{"s":"(c)","t":206,"v":2980},{"s":"(c)","t":207,"v":3000},{"s":"(c)","t":209,"v":3060},{"s":"(c)","t":210,"v":3090},{"s":"(c)","t":212,"v":3040},{"s":"(c)","t":213,"v":3030},{"s":"(c)","t":215,"v":3070},{"s":"(c)","t":216,"v":3090},{"s":"(c)","t":218,"v":3000},{"s":"(c)","t":219,"v":2960},{"s":"(c)","t":221,"v":2940},{"s":"(c)","t":222,"v":2930},{"s":"(c)","t":224,"v":2950},{"s":"(c)","t":225,"v":2960},{"s":"(c)","t":227,"v":2780},{"s":"(c)","t":228,"v":2655},{"s":"(c)","t":230,"v":2560},{"s":"(c)","t":231,"v":2510},{"s":"(c)","t":233,"v":2250},{"s":"(c)","t":234,"v":2100},{"s":"(c)","t":236,"v":2220},{"s":"(c)","t":237,"v":2330},{"s":"(c)","t":238,"v":2410},{"s":"(c)","t":240,"v":2600},{"s":"(c)","t":241,"v":2720},{"s":"(c)","t":243,"v":2700},{"s":"(c)","t":244,"v":2720},{"s":"(c)","t":246,"v":2580},{"s":"(c)","t":247,"v":2510},{"s":"(c)","t":249,"v":2480},{"s":"(c)","t":250,"v":2470},{"s":"(c)","t":252,"v":2600},{"s":"(c)","t":253,"v":2655},{"s":"(c)","t":255,"v":2700},{"s":"(c)","t":256,"v":2720},{"s":"(c)","t":258,"v":2680},{"s":"(c)","t":259,"v":2655},{"s":"(c)","t":261,"v":2720},{"s":"(c)","t":262,"v":2750},{"s":"(c)","t":264,"v":2900},{"s":"(c)","t":265,"v":2960},{"s":"(c)","t":267,"v":3050},{"s":"(c)","t":268,"v":3090},{"s":"(c)","t":270,"v":3030},{"s":"(c)","t":271,"v":3000},{"s":"(c)","t":273,"v":2850},{"s":"(c)","t":274,"v":2780},{"s":"(c)","t":276,"v":2600},{"s":"(c)","t":277,"v":2510},{"s":"(c)","t":279,"v":2450},{"s":"(c)","t":280,"v":2430},{"s":"(c)","t":282,"v":2550},{"s":"(c)","t":283,"v":2600},{"s":"(c)","t":285,"v":2680},{"s":"(c)","t":286,"v":2720},{"s":"(c)","t":288,"v":2900},{"s":"(c)","t":289,"v":2960},{"s":"(c)","t":291,"v":2850},{"s":"(c)","t":292,"v":2780},{"s":"(c)","t":294,"v":2820},{"s":"(c)","t":295,"v":2840},{"s":"(c)","t":297,"v":2800},{"s":"(c)","t":298,"v":2780},{"s":"(c)","t":300,"v":2880},
{"s":"(d)","t":0,"v":2960},{"s":"(d)","t":2,"v":2780},{"s":"(d)","t":4,"v":2470},{"s":"(d)","t":6,"v":2285},{"s":"(d)","t":8,"v":2160},{"s":"(d)","t":10,"v":2100},{"s":"(d)","t":12,"v":2140},{"s":"(d)","t":13,"v":2100},{"s":"(d)","t":15,"v":1975},{"s":"(d)","t":17,"v":2010},{"s":"(d)","t":18,"v":2040},{"s":"(d)","t":20,"v":2080},{"s":"(d)","t":21,"v":2100},{"s":"(d)","t":23,"v":2060},{"s":"(d)","t":24,"v":2040},{"s":"(d)","t":26,"v":2050},{"s":"(d)","t":27,"v":2060},{"s":"(d)","t":29,"v":2000},{"s":"(d)","t":30,"v":1975},{"s":"(d)","t":32,"v":2010},{"s":"(d)","t":33,"v":2040},{"s":"(d)","t":35,"v":2000},{"s":"(d)","t":36,"v":1975},{"s":"(d)","t":38,"v":2150},{"s":"(d)","t":39,"v":2285},{"s":"(d)","t":41,"v":2430},{"s":"(d)","t":42,"v":2300},{"s":"(d)","t":43,"v":2160},{"s":"(d)","t":45,"v":2050},{"s":"(d)","t":46,"v":1975},{"s":"(d)","t":48,"v":1915},{"s":"(d)","t":50,"v":1850},{"s":"(d)","t":51,"v":1790},{"s":"(d)","t":53,"v":1860},{"s":"(d)","t":54,"v":1915},{"s":"(d)","t":56,"v":2100},{"s":"(d)","t":57,"v":2220},{"s":"(d)","t":59,"v":2330},{"s":"(d)","t":60,"v":2410},{"s":"(d)","t":62,"v":2330},{"s":"(d)","t":63,"v":2285},{"s":"(d)","t":65,"v":2320},{"s":"(d)","t":66,"v":2345},{"s":"(d)","t":68,"v":2420},{"s":"(d)","t":69,"v":2470},{"s":"(d)","t":71,"v":2530},{"s":"(d)","t":72,"v":2555},{"s":"(d)","t":74,"v":2470},{"s":"(d)","t":75,"v":2300},{"s":"(d)","t":77,"v":2100},{"s":"(d)","t":79,"v":1915},{"s":"(d)","t":81,"v":1990},{"s":"(d)","t":82,"v":2040},{"s":"(d)","t":84,"v":2050},{"s":"(d)","t":85,"v":2060},{"s":"(d)","t":87,"v":2030},{"s":"(d)","t":88,"v":2040},{"s":"(d)","t":90,"v":2000},{"s":"(d)","t":91,"v":1975},{"s":"(d)","t":93,"v":1930},{"s":"(d)","t":94,"v":1915},{"s":"(d)","t":96,"v":1870},{"s":"(d)","t":97,"v":1850},{"s":"(d)","t":99,"v":1830},{"s":"(d)","t":100,"v":1820},{"s":"(d)","t":102,"v":1870},{"s":"(d)","t":103,"v":1900},{"s":"(d)","t":105,"v":1950},{"s":"(d)","t":106,"v":1975},{"s":"(d)","t":108,"v":2020},{"s":"(d)","t":109,"v":2040},{"s":"(d)","t":111,"v":2080},{"s":"(d)","t":112,"v":2100},{"s":"(d)","t":114,"v":2020},{"s":"(d)","t":115,"v":1975},{"s":"(d)","t":117,"v":1900},{"s":"(d)","t":118,"v":1850},{"s":"(d)","t":120,"v":1770},{"s":"(d)","t":121,"v":1730},{"s":"(d)","t":123,"v":1650},{"s":"(d)","t":124,"v":1600},{"s":"(d)","t":126,"v":1580},{"s":"(d)","t":127,"v":1570},{"s":"(d)","t":129,"v":1640},{"s":"(d)","t":130,"v":1670},{"s":"(d)","t":132,"v":1700},{"s":"(d)","t":133,"v":1730},{"s":"(d)","t":135,"v":1820},{"s":"(d)","t":136,"v":1850},{"s":"(d)","t":138,"v":1890},{"s":"(d)","t":139,"v":1915},{"s":"(d)","t":141,"v":1990},{"s":"(d)","t":142,"v":2040},{"s":"(d)","t":144,"v":2120},{"s":"(d)","t":145,"v":2160},{"s":"(d)","t":147,"v":2080},{"s":"(d)","t":148,"v":2040},{"s":"(d)","t":150,"v":1975},{"s":"(d)","t":151,"v":1915},{"s":"(d)","t":153,"v":1850},{"s":"(d)","t":154,"v":1815},{"s":"(d)","t":156,"v":1760},{"s":"(d)","t":157,"v":1730},{"s":"(d)","t":159,"v":1700},{"s":"(d)","t":160,"v":1670},{"s":"(d)","t":161,"v":1600},{"s":"(d)","t":162,"v":1480},{"s":"(d)","t":163,"v":1650},{"s":"(d)","t":164,"v":1790},{"s":"(d)","t":166,"v":1850},{"s":"(d)","t":167,"v":1890},{"s":"(d)","t":169,"v":1850},{"s":"(d)","t":170,"v":1820},{"s":"(d)","t":172,"v":1760},{"s":"(d)","t":173,"v":1730},{"s":"(d)","t":175,"v":1850},{"s":"(d)","t":177,"v":1950},{"s":"(d)","t":178,"v":2040},{"s":"(d)","t":180,"v":2200},{"s":"(d)","t":181,"v":2285},{"s":"(d)","t":183,"v":2250},{"s":"(d)","t":184,"v":2220},{"s":"(d)","t":186,"v":2160},{"s":"(d)","t":188,"v":2100},{"s":"(d)","t":189,"v":2040},{"s":"(d)","t":191,"v":2150},{"s":"(d)","t":192,"v":2200},{"s":"(d)","t":194,"v":2300},{"s":"(d)","t":195,"v":2345},{"s":"(d)","t":197,"v":2380},{"s":"(d)","t":198,"v":2410},{"s":"(d)","t":200,"v":2480},{"s":"(d)","t":201,"v":2530},{"s":"(d)","t":203,"v":2600},{"s":"(d)","t":204,"v":2655},{"s":"(d)","t":206,"v":2740},{"s":"(d)","t":207,"v":2780},{"s":"(d)","t":209,"v":2820},{"s":"(d)","t":210,"v":2840},{"s":"(d)","t":212,"v":2870},{"s":"(d)","t":213,"v":2880},{"s":"(d)","t":215,"v":2890},{"s":"(d)","t":216,"v":2900},{"s":"(d)","t":218,"v":2870},{"s":"(d)","t":219,"v":2840},{"s":"(d)","t":221,"v":2720},{"s":"(d)","t":222,"v":2655},{"s":"(d)","t":224,"v":2560},{"s":"(d)","t":225,"v":2510},{"s":"(d)","t":227,"v":2490},{"s":"(d)","t":228,"v":2470},{"s":"(d)","t":230,"v":2430},{"s":"(d)","t":231,"v":2410},{"s":"(d)","t":233,"v":2430},{"s":"(d)","t":234,"v":2450},{"s":"(d)","t":236,"v":2380},{"s":"(d)","t":237,"v":2345},{"s":"(d)","t":239,"v":2350},{"s":"(d)","t":240,"v":2345},{"s":"(d)","t":242,"v":2370},{"s":"(d)","t":243,"v":2380},{"s":"(d)","t":245,"v":2320},{"s":"(d)","t":246,"v":2285},{"s":"(d)","t":248,"v":2380},{"s":"(d)","t":249,"v":2430},{"s":"(d)","t":251,"v":2560},{"s":"(d)","t":252,"v":2655},{"s":"(d)","t":254,"v":2780},{"s":"(d)","t":255,"v":2840},{"s":"(d)","t":257,"v":2840},{"s":"(d)","t":258,"v":2840},{"s":"(d)","t":260,"v":2860},{"s":"(d)","t":261,"v":2880},{"s":"(d)","t":263,"v":2750},{"s":"(d)","t":264,"v":2655},{"s":"(d)","t":266,"v":2720},{"s":"(d)","t":267,"v":2780},{"s":"(d)","t":269,"v":2950},{"s":"(d)","t":270,"v":3030},{"s":"(d)","t":272,"v":3200},{"s":"(d)","t":273,"v":3300},{"s":"(d)","t":275,"v":3200},{"s":"(d)","t":276,"v":3150},{"s":"(d)","t":278,"v":3100},{"s":"(d)","t":279,"v":3090},{"s":"(d)","t":281,"v":3110},{"s":"(d)","t":282,"v":3120},{"s":"(d)","t":284,"v":2980},{"s":"(d)","t":285,"v":2900},{"s":"(d)","t":287,"v":2960},{"s":"(d)","t":288,"v":3000},{"s":"(d)","t":290,"v":2800},{"s":"(d)","t":291,"v":2720},{"s":"(d)","t":293,"v":2800},{"s":"(d)","t":294,"v":2840},{"s":"(d)","t":296,"v":2830},{"s":"(d)","t":297,"v":2840},{"s":"(d)","t":299,"v":2650},{"s":"(d)","t":300,"v":2510}
]
},
"vconcat": [
{
  "width": 843, "height": 76,
  "title": "r = 1 , ρ = 1 , μ = 0",
  "layer": [
    {
      "data": {"name": "A"},
      "transform": [{"fold": ["1","2","3"], "as": ["node","v"]}],
      "mark": {"type": "rect", "binSpacing": 0, "x2Offset": -1, "height": {"band": 1.05}, "clip": true},
      "encoding": {
        "x": {"field": "t", "type": "quantitative", "bin": {"binned": true, "step": 2}, "scale": {"domain": [0,300], "nice": false, "zero": false}, "axis": {"values": [0,30,60,90,120,150,180,210,240,270,300], "title": "Time", "format": "d"}},
        "y": {"field": "node", "type": "ordinal", "scale": {"paddingInner": 0, "paddingOuter": 0}, "axis": {"title": "Nodes"}},
        "color": {"field": "v", "type": "quantitative", "scale": {"type": "linear", "domain": [0,0.375,0.75,1], "range": ["#0b0000","#ff0000","#ffff00","#ffffff"], "interpolate": "rgb", "clamp": true}, "legend": {"type": "gradient", "title": null, "values": [0,0.5,1], "format": "~g", "orient": "right", "direction": "vertical", "encode": {"labels": {"update": {"baseline": {"value": "middle"}}}}}}
      }
    },
    {
      "data": {"values": [{}]},
      "mark": {"type": "point", "opacity": 0},
      "encoding": {
        "x": {"datum": 150, "type": "quantitative", "axis": {"orient": "top", "labels": false, "title": null, "values": [30,60,90,120,150,180,210,240,270]}},
        "y": {"datum": "2", "type": "ordinal", "axis": {"orient": "right", "labels": false, "title": null}}
      }
    },
    {
      "data": {"values": [{"lab": "(a)"}]},
      "mark": {"type": "text", "align": "left", "baseline": "middle", "dx": -98, "dy": 29, "fontSize": 18, "font": "Liberation Sans", "color": "#1a1a1a"},
      "encoding": {"x": {"datum": 0, "type": "quantitative", "axis": null}, "y": {"datum": "3", "type": "ordinal", "axis": null}, "text": {"field": "lab"}}
    }
  ],
  "resolve": {"axis": {"x": "independent", "y": "independent"}}
},
{
  "width": 843, "height": 76,
  "title": "r = 1 , ρ = 1 , μ = 1.80",
  "layer": [
    {
      "data": {"name": "B"},
      "transform": [{"fold": ["1","2","3"], "as": ["node","v"]}],
      "mark": {"type": "rect", "binSpacing": 0, "x2Offset": -1, "height": {"band": 1.05}, "clip": true},
      "encoding": {
        "x": {"field": "t", "type": "quantitative", "bin": {"binned": true, "step": 1}, "scale": {"domain": [0,300], "nice": false, "zero": false}, "axis": {"values": [30,60,90,120,150,180,210,240,270,300], "title": "Time", "format": "d"}},
        "y": {"field": "node", "type": "ordinal", "scale": {"paddingInner": 0, "paddingOuter": 0}, "axis": {"title": "Nodes"}},
        "color": {"field": "v", "type": "quantitative", "scale": {"type": "linear", "domain": [0,0.375,0.75,1], "range": ["#0b0000","#ff0000","#ffff00","#ffffff"], "interpolate": "rgb", "clamp": true}, "legend": {"type": "gradient", "title": null, "values": [0,0.5,1], "format": "~g", "orient": "right", "direction": "vertical", "encode": {"labels": {"update": {"baseline": {"value": "middle"}}}}}}
      }
    },
    {
      "data": {"values": [{}]},
      "mark": {"type": "point", "opacity": 0},
      "encoding": {
        "x": {"datum": 150, "type": "quantitative", "axis": {"orient": "top", "labels": false, "title": null, "values": [30,60,90,120,150,180,210,240,270]}},
        "y": {"datum": "2", "type": "ordinal", "axis": {"orient": "right", "labels": false, "title": null}}
      }
    },
    {
      "data": {"values": [{"lab": "(b)"}]},
      "mark": {"type": "text", "align": "left", "baseline": "middle", "dx": -98, "dy": 29, "fontSize": 18, "font": "Liberation Sans", "color": "#1a1a1a"},
      "encoding": {"x": {"datum": 0, "type": "quantitative", "axis": null}, "y": {"datum": "3", "type": "ordinal", "axis": null}, "text": {"field": "lab"}}
    }
  ],
  "resolve": {"axis": {"x": "independent", "y": "independent"}}
},
{
  "width": 843, "height": 76,
  "title": "r = 1 , ρ = 1 , μ = 2.08",
  "layer": [
    {
      "data": {"name": "C"},
      "mark": {"type": "rect", "x2Offset": 1, "height": {"band": 1.05}, "clip": true},
      "encoding": {
        "x": {"field": "a", "type": "quantitative", "scale": {"domain": [0,300], "nice": false, "zero": false}, "axis": {"values": [0,30,60,90,120,150,180,210,240,270,300], "title": "Time", "format": "d"}},
        "x2": {"field": "b"},
        "y": {"field": "n", "type": "ordinal", "scale": {"paddingInner": 0, "paddingOuter": 0}, "axis": {"title": "Nodes"}},
        "color": {"field": "v", "type": "quantitative", "scale": {"type": "linear", "domain": [0,0.375,0.75,1], "range": ["#0b0000","#ff0000","#ffff00","#ffffff"], "interpolate": "rgb", "clamp": true}, "legend": {"type": "gradient", "title": null, "values": [0,0.5,1], "format": "~g", "orient": "right", "direction": "vertical", "encode": {"labels": {"update": {"baseline": {"value": "middle"}}}}}}
      }
    },
    {
      "data": {"values": [{}]},
      "mark": {"type": "point", "opacity": 0},
      "encoding": {
        "x": {"datum": 150, "type": "quantitative", "axis": {"orient": "top", "labels": false, "title": null, "values": [30,60,90,120,150,180,210,240,270]}},
        "y": {"datum": "2", "type": "ordinal", "axis": {"orient": "right", "labels": false, "title": null}}
      }
    },
    {
      "data": {"values": [{"lab": "(c)"}]},
      "mark": {"type": "text", "align": "left", "baseline": "middle", "dx": -98, "dy": 29, "fontSize": 18, "font": "Liberation Sans", "color": "#1a1a1a"},
      "encoding": {"x": {"datum": 0, "type": "quantitative", "axis": null}, "y": {"datum": "3", "type": "ordinal", "axis": null}, "text": {"field": "lab"}}
    }
  ],
  "resolve": {"axis": {"x": "independent", "y": "independent"}}
},
{
  "width": 843, "height": 76,
  "title": "r = 1 , ρ = 1 , μ = 2.20",
  "layer": [
    {
      "data": {"name": "D"},
      "mark": {"type": "rect", "x2Offset": 1, "height": {"band": 1.05}, "clip": true},
      "encoding": {
        "x": {"field": "a", "type": "quantitative", "scale": {"domain": [0,300], "nice": false, "zero": false}, "axis": {"values": [0,30,60,90,120,150,180,210,240,270,300], "title": "Time", "format": "d"}},
        "x2": {"field": "b"},
        "y": {"field": "n", "type": "ordinal", "scale": {"paddingInner": 0, "paddingOuter": 0}, "axis": {"title": "Nodes"}},
        "color": {"field": "v", "type": "quantitative", "scale": {"type": "linear", "domain": [0,0.375,0.75,1], "range": ["#0b0000","#ff0000","#ffff00","#ffffff"], "interpolate": "rgb", "clamp": true}, "legend": {"type": "gradient", "title": null, "values": [0,0.5,1], "format": "~g", "orient": "right", "direction": "vertical", "encode": {"labels": {"update": {"baseline": {"value": "middle"}}}}}}
      }
    },
    {
      "data": {"values": [{}]},
      "mark": {"type": "point", "opacity": 0},
      "encoding": {
        "x": {"datum": 150, "type": "quantitative", "axis": {"orient": "top", "labels": false, "title": null, "values": [30,60,90,120,150,180,210,240,270]}},
        "y": {"datum": "2", "type": "ordinal", "axis": {"orient": "right", "labels": false, "title": null}}
      }
    },
    {
      "data": {"values": [{"lab": "(d)"}]},
      "mark": {"type": "text", "align": "left", "baseline": "middle", "dx": -98, "dy": 29, "fontSize": 18, "font": "Liberation Sans", "color": "#1a1a1a"},
      "encoding": {"x": {"datum": 0, "type": "quantitative", "axis": null}, "y": {"datum": "3", "type": "ordinal", "axis": null}, "text": {"field": "lab"}}
    }
  ],
  "resolve": {"axis": {"x": "independent", "y": "independent"}}
},
{
  "width": 843, "height": 136,
  "layer": [
    {
      "data": {"name": "E"},
      "mark": {"type": "line", "strokeWidth": 2.3},
      "encoding": {
        "x": {"field": "t", "type": "quantitative", "scale": {"domain": [0,300], "nice": false, "zero": false}, "axis": {"values": [0,30,60,90,120,150,180,210,240,270,300], "title": "Time", "format": "d"}},
        "y": {"field": "v", "type": "quantitative", "scale": {"domain": [0,5000], "nice": false}, "axis": {"values": [0,1000,2000,3000,4000,5000], "title": "Total Population", "format": "d"}},
        "color": {"field": "s", "type": "nominal", "scale": {"domain": ["(a)","(b)","(c)","(d)"], "range": ["#000000","#0a0aee","#16ee16","#ff00ff"]}, "legend": {"title": null, "orient": "none", "legendX": 401, "legendY": 6, "direction": "horizontal", "symbolType": "M-5,0H5", "symbolSize": 140, "symbolOffset": 24, "symbolStrokeWidth": 2, "symbolFillColor": "transparent", "strokeColor": "#1a1a1a", "fillColor": "#ffffff", "padding": 7, "columnPadding": 8, "labelOffset": 24}}
      }
    },
    {
      "data": {"values": [{}]},
      "mark": {"type": "point", "opacity": 0},
      "encoding": {
        "x": {"datum": 150, "type": "quantitative", "axis": {"orient": "top", "labels": false, "title": null, "values": [30,60,90,120,150,180,210,240,270]}},
        "y": {"datum": 2500, "type": "quantitative", "axis": {"orient": "right", "labels": false, "title": null, "values": [1000,2000,3000,4000]}}
      }
    },
    {
      "data": {"values": [{"lab": "(e)"}]},
      "mark": {"type": "text", "align": "left", "baseline": "middle", "dx": -98, "dy": 17, "fontSize": 18, "font": "Liberation Sans", "color": "#1a1a1a"},
      "encoding": {"x": {"datum": 0, "type": "quantitative", "axis": null}, "y": {"datum": 0, "type": "quantitative", "axis": null}, "text": {"field": "lab"}}
    }
  ],
  "resolve": {"axis": {"x": "independent", "y": "independent"}}
}
]
}
